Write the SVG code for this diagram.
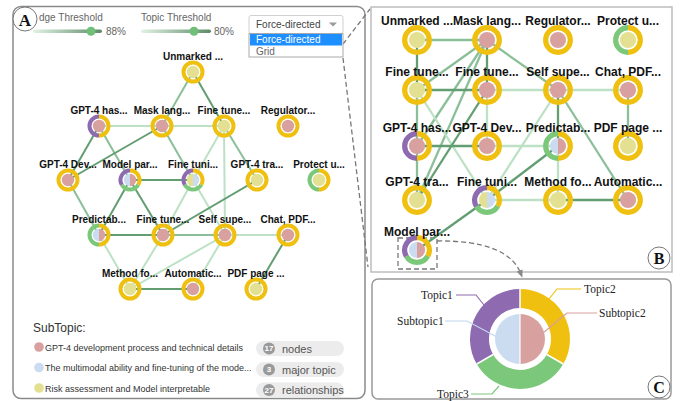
<svg xmlns="http://www.w3.org/2000/svg" xmlns:xlink="http://www.w3.org/1999/xlink" width="686" height="401" viewBox="0 0 686 401">
<style>
text{font-family:"Liberation Sans",Arial,sans-serif}
.la{font-size:10px;font-weight:bold;fill:#111;text-anchor:middle}
.lb{font-size:12px;font-weight:bold;fill:#111;text-anchor:middle}
.ui{font-size:10px;fill:#666}
.e1{stroke:#639e72;stroke-width:2;fill:none}
.e2{stroke:#8abf98;stroke-width:2;fill:none}
.e3{stroke:#bce1c4;stroke-width:2;fill:none}
.b1{stroke:#639e72;stroke-width:2.3;fill:none}
.b2{stroke:#8abf98;stroke-width:2.3;fill:none}
.b3{stroke:#bce1c4;stroke-width:2.3;fill:none}
.ser{font-family:"Liberation Serif","Times New Roman",serif;font-size:11.5px;fill:#222}
.leg{font-size:9px;fill:#333}
.pill{fill:#ececec}
.pc{fill:#9a9a9a}
.pn{font-size:8px;fill:#fff;font-weight:bold;text-anchor:middle}
.pt{font-size:11px;fill:#555}
.dash{stroke:#777;stroke-width:1.3;fill:none;stroke-dasharray:5,3}
</style>
<defs>
<linearGradient id="sl" x1="0" x2="1" y1="0" y2="0"><stop offset="0" stop-color="#e3f2e4"/><stop offset="1" stop-color="#5c8c69"/></linearGradient>
<g id="rY"><circle r="9.5" fill="none" stroke="#f0c010" stroke-width="4"/></g>
<g id="rPY"><path d="M0,9.5 A9.5,9.5 0 0 1 0,-9.5" fill="none" stroke="#8e6bb0" stroke-width="4"/><path d="M0,-9.5 A9.5,9.5 0 0 1 0,9.5" fill="none" stroke="#f0c010" stroke-width="4"/></g>
<g id="rGY"><path d="M0,9.5 A9.5,9.5 0 0 1 0,-9.5" fill="none" stroke="#7bc87b" stroke-width="4"/><path d="M0,-9.5 A9.5,9.5 0 0 1 0,9.5" fill="none" stroke="#f0c010" stroke-width="4"/></g>
<g id="r3"><path d="M0,-9.5 A9.5,9.5 0 0 1 8.227,4.75" fill="none" stroke="#f0c010" stroke-width="4"/><path d="M8.227,4.75 A9.5,9.5 0 0 1 -8.227,4.75" fill="none" stroke="#7bc87b" stroke-width="4"/><path d="M-8.227,4.75 A9.5,9.5 0 0 1 0,-9.5" fill="none" stroke="#8e6bb0" stroke-width="4"/></g>
<circle id="iP" r="6.2" fill="#d9a0a0"/>
<circle id="iY" r="6.2" fill="#e3e191"/>
<g id="iBP"><path d="M0,-6.2 A6.2,6.2 0 0 0 0,6.2 Z" fill="#cbdcf1"/><path d="M0,-6.2 A6.2,6.2 0 0 1 0,6.2 Z" fill="#d9a0a0"/></g>
<g id="iYB"><path d="M0,-6.2 A6.2,6.2 0 0 0 0,6.2 Z" fill="#e3e191"/><path d="M0,-6.2 A6.2,6.2 0 0 1 0,6.2 Z" fill="#cbdcf1"/></g>
<marker id="arr" viewBox="0 0 10 10" refX="5" refY="5" markerWidth="6" markerHeight="6" orient="auto"><path d="M0,1 L10,5 L0,9 Z" fill="#888"/></marker>
</defs>
<rect width="686" height="401" fill="#fff"/>

<!-- Panel frames -->
<rect x="13" y="6.5" width="352" height="392" rx="8" fill="none" stroke="#8a8a8a" stroke-width="1.5"/>
<rect x="371" y="7" width="301" height="265" fill="none" stroke="#bdbdbd" stroke-width="1.5"/>
<rect x="372" y="279" width="299" height="120" rx="6" fill="none" stroke="#999" stroke-width="1.5"/>

<!-- Panel A controls -->
<g id="edge-threshold">
<text class="ui" x="39" y="21">dge Threshold</text>
<rect x="33" y="29.5" width="69" height="3.5" rx="1.7" fill="url(#sl)"/>
<circle cx="91" cy="31.2" r="4.5" fill="#6fbf79"/>
<text class="ui" x="106" y="35">88%</text>
</g>
<g id="topic-threshold">
<text class="ui" x="141" y="21">Topic Threshold</text>
<rect x="141" y="29.5" width="70" height="3.5" rx="1.7" fill="url(#sl)"/>
<circle cx="194" cy="31.2" r="4.5" fill="#6fbf79"/>
<text class="ui" x="214" y="35">80%</text>
</g>
<g id="label-A"><circle cx="25" cy="19" r="12" fill="#fff" stroke="#777" stroke-width="1"/><text x="25" y="25.5" text-anchor="middle" style="font-family:'Liberation Serif',serif;font-weight:bold;font-size:17px" fill="#111">A</text></g>

<!-- connectors -->
<g id="connectors">
<g id="zoom-lines">
<line class="dash" x1="343" y1="44" x2="370" y2="9"/>
<line class="dash" x1="343" y1="58" x2="368" y2="267"/>
<rect class="dash" x="398" y="238" width="39" height="31"/>
<path class="dash" d="M437,241 Q508,240 521,274" marker-end="url(#arr)"/>
</g>
<g id="edges-A">
<line class="e2" x1="193" y1="72" x2="162" y2="126"/>
<line class="e1" x1="193" y1="72" x2="224" y2="126"/>
<line class="e3" x1="99" y1="126" x2="162" y2="126"/>
<line class="e3" x1="162" y1="126" x2="224" y2="126"/>
<line class="e1" x1="99" y1="126" x2="68" y2="180"/>
<line class="e2" x1="99" y1="126" x2="130" y2="180"/>
<line class="e1" x1="130" y1="180" x2="163" y2="235"/>
<line class="e1" x1="162" y1="126" x2="68" y2="180"/>
<line class="e2" x1="162" y1="126" x2="193" y2="180"/>
<line class="e3" x1="224" y1="126" x2="225" y2="235"/>
<line class="e3" x1="224" y1="126" x2="193" y2="180"/>
<line class="e2" x1="224" y1="126" x2="257" y2="180"/>
<line class="e2" x1="68" y1="180" x2="99" y2="235"/>
<line class="e1" x1="130" y1="180" x2="193" y2="180"/>
<line class="e1" x1="130" y1="180" x2="99" y2="235"/>
<line class="e3" x1="193" y1="180" x2="163" y2="235"/>
<line class="e3" x1="193" y1="180" x2="225" y2="235"/>
<line class="e1" x1="257" y1="180" x2="163" y2="235"/>
<line class="e1" x1="99" y1="235" x2="163" y2="235"/>
<line class="e2" x1="163" y1="235" x2="225" y2="235"/>
<line class="e3" x1="225" y1="235" x2="288" y2="235"/>
<line class="e3" x1="99" y1="235" x2="130" y2="289"/>
<line class="e3" x1="163" y1="235" x2="130" y2="289"/>
<line class="e3" x1="225" y1="235" x2="130" y2="289"/>
<line class="e3" x1="225" y1="235" x2="193" y2="289"/>
<line class="e1" x1="130" y1="289" x2="193" y2="289"/>
<line class="e1" x1="288" y1="235" x2="256" y2="289"/>
</g>
<g id="edges-B">
<line class="b2" x1="417" y1="40" x2="487" y2="40"/>
<line class="b1" x1="417" y1="40" x2="417" y2="90"/>
<line class="b1" x1="487" y1="40" x2="487" y2="90"/>
<line class="b2" x1="487" y1="40" x2="417" y2="90"/>
<line class="b2" x1="487" y1="40" x2="417" y2="146"/>
<line class="b2" x1="487" y1="40" x2="417" y2="200"/>
<line class="b2" x1="487" y1="40" x2="558" y2="90"/>
<line class="b1" x1="417" y1="90" x2="487" y2="90"/>
<line class="b3" x1="487" y1="90" x2="558" y2="90"/>
<line class="b3" x1="558" y1="90" x2="628" y2="90"/>
<line class="b2" x1="628" y1="90" x2="628" y2="146"/>
<line class="b3" x1="417" y1="90" x2="487" y2="200"/>
<line class="b2" x1="417" y1="90" x2="417" y2="146"/>
<line class="b1" x1="487" y1="90" x2="417" y2="200"/>
<line class="b3" x1="487" y1="90" x2="487" y2="146"/>
<line class="b1" x1="417" y1="146" x2="487" y2="146"/>
<line class="b3" x1="487" y1="146" x2="558" y2="146"/>
<line class="b2" x1="417" y1="146" x2="417" y2="200"/>
<line class="b1" x1="558" y1="90" x2="558" y2="146"/>
<line class="b3" x1="558" y1="90" x2="487" y2="200"/>
<line class="b2" x1="558" y1="90" x2="628" y2="200"/>
<line class="b3" x1="558" y1="146" x2="558" y2="200"/>
<line class="b1" x1="558" y1="146" x2="487" y2="200"/>
<line class="b3" x1="487" y1="200" x2="558" y2="200"/>
<line class="b1" x1="558" y1="200" x2="628" y2="200"/>
<line class="b1" x1="487" y1="200" x2="417" y2="250"/>
</g>
</g>

<!-- Panel A nodes -->
<g id="a-unmarked" transform="translate(193,72)"><use href="#rY"/><use href="#iY"/><text class="la" y="-12">Unmarked ...</text></g>
<g id="a-gpt4has" transform="translate(99,126)"><use href="#rPY"/><use href="#iP"/><text class="la" y="-12">GPT-4 has...</text></g>
<g id="a-masklang" transform="translate(162,126)"><use href="#rY"/><use href="#iP"/><text class="la" y="-12">Mask lang...</text></g>
<g id="a-finetune1" transform="translate(224,126)"><use href="#rY"/><use href="#iY"/><text class="la" y="-12">Fine tune...</text></g>
<g id="a-regulator" transform="translate(288,126)"><use href="#rY"/><use href="#iP"/><text class="la" y="-12">Regulator...</text></g>
<g id="a-gpt4dev" transform="translate(68,180)"><use href="#rY"/><use href="#iP"/><text class="la" y="-12">GPT-4 Dev...</text></g>
<g id="a-modelpar" transform="translate(130,180)"><use href="#r3"/><use href="#iBP"/><text class="la" y="-12">Model par...</text></g>
<g id="a-finetuni" transform="translate(193,180)"><use href="#r3"/><use href="#iYB"/><text class="la" y="-12">Fine tuni...</text></g>
<g id="a-gpt4tra" transform="translate(257,180)"><use href="#rY"/><use href="#iY"/><text class="la" y="-12">GPT-4 tra...</text></g>
<g id="a-protect" transform="translate(319,180)"><use href="#rGY"/><use href="#iY"/><text class="la" y="-12">Protect u...</text></g>
<g id="a-predictab" transform="translate(99,235)"><use href="#rGY"/><use href="#iBP"/><text class="la" y="-12">Predictab...</text></g>
<g id="a-finetune2" transform="translate(163,235)"><use href="#rY"/><use href="#iP"/><text class="la" y="-12">Fine tune...</text></g>
<g id="a-selfsupe" transform="translate(225,235)"><use href="#rY"/><use href="#iP"/><text class="la" y="-12">Self supe...</text></g>
<g id="a-chatpdf" transform="translate(288,235)"><use href="#rY"/><use href="#iP"/><text class="la" y="-12">Chat, PDF...</text></g>
<g id="a-methodfo" transform="translate(130,289)"><use href="#rY"/><use href="#iY"/><text class="la" y="-12">Method fo...</text></g>
<g id="a-automatic" transform="translate(193,289)"><use href="#rY"/><use href="#iP"/><text class="la" y="-12">Automatic...</text></g>
<g id="a-pdfpage" transform="translate(256,289)"><use href="#rY"/><use href="#iY"/><text class="la" y="-12">PDF page ...</text></g>

<!-- Panel B nodes -->
<g id="b-unmarked" transform="translate(417,40)"><g transform="scale(1.3)"><use href="#rY"/><use href="#iY"/></g><text class="lb" y="-15">Unmarked ...</text></g>
<g id="b-masklang" transform="translate(487,40)"><g transform="scale(1.3)"><use href="#rY"/><use href="#iP"/></g><text class="lb" y="-15">Mask lang...</text></g>
<g id="b-regulator" transform="translate(558,40)"><g transform="scale(1.3)"><use href="#rY"/><use href="#iP"/></g><text class="lb" y="-15">Regulator...</text></g>
<g id="b-protect" transform="translate(628,40)"><g transform="scale(1.3)"><use href="#rGY"/><use href="#iY"/></g><text class="lb" y="-15">Protect u...</text></g>
<g id="b-finetune1" transform="translate(417,90)"><g transform="scale(1.3)"><use href="#rY"/><use href="#iY"/></g><text class="lb" y="-14">Fine tune...</text></g>
<g id="b-finetune2" transform="translate(487,90)"><g transform="scale(1.3)"><use href="#rY"/><use href="#iP"/></g><text class="lb" y="-14">Fine tune...</text></g>
<g id="b-selfsupe" transform="translate(558,90)"><g transform="scale(1.3)"><use href="#rY"/><use href="#iP"/></g><text class="lb" y="-14">Self supe...</text></g>
<g id="b-chatpdf" transform="translate(628,90)"><g transform="scale(1.3)"><use href="#rY"/><use href="#iP"/></g><text class="lb" y="-14">Chat, PDF...</text></g>
<g id="b-gpt4has" transform="translate(417,146)"><g transform="scale(1.3)"><use href="#rPY"/><use href="#iP"/></g><text class="lb" y="-14">GPT-4 has...</text></g>
<g id="b-gpt4dev" transform="translate(487,146)"><g transform="scale(1.3)"><use href="#rY"/><use href="#iP"/></g><text class="lb" y="-14">GPT-4 Dev...</text></g>
<g id="b-predictab" transform="translate(558,146)"><g transform="scale(1.3)"><use href="#rGY"/><use href="#iBP"/></g><text class="lb" y="-14">Predictab...</text></g>
<g id="b-pdfpage" transform="translate(628,146)"><g transform="scale(1.3)"><use href="#rY"/><use href="#iY"/></g><text class="lb" y="-14">PDF page ...</text></g>
<g id="b-gpt4tra" transform="translate(417,200)"><g transform="scale(1.3)"><use href="#rY"/><use href="#iY"/></g><text class="lb" y="-14">GPT-4 tra...</text></g>
<g id="b-finetuni" transform="translate(487,200)"><g transform="scale(1.3)"><use href="#r3"/><use href="#iYB"/></g><text class="lb" y="-14">Fine tuni...</text></g>
<g id="b-methodfo" transform="translate(558,200)"><g transform="scale(1.3)"><use href="#rY"/><use href="#iY"/></g><text class="lb" y="-14">Method fo...</text></g>
<g id="b-automatic" transform="translate(628,200)"><g transform="scale(1.3)"><use href="#rY"/><use href="#iP"/></g><text class="lb" y="-14">Automatic...</text></g>
<g id="b-modelpar" transform="translate(417,250)"><g transform="scale(1.3)"><use href="#r3"/><use href="#iBP"/></g><text class="lb" y="-14">Model par...</text></g>
<g id="label-B"><circle cx="659" cy="258" r="11" fill="#fff" stroke="#777" stroke-width="1"/><text x="659" y="264" text-anchor="middle" style="font-family:'Liberation Serif',serif;font-weight:bold;font-size:16px" fill="#111">B</text></g>

<!-- Dropdown (on top) -->
<g id="dropdown">
<rect x="249" y="15.5" width="94" height="18" rx="2" fill="#fff" stroke="#d0d0d0"/>
<text x="256" y="28" style="font-size:10px" fill="#444">Force-directed</text>
<path d="M329,22.5 L337,22.5 L333,26.5 Z" fill="#999"/>
<rect x="249" y="33.5" width="94" height="23.5" fill="#fff" stroke="#aaa"/>
<rect x="250" y="34" width="92" height="11.5" fill="#1e8fff"/>
<text x="256" y="43" style="font-size:10px" fill="#fff">Force-directed</text>
<text x="256" y="54.5" style="font-size:10px" fill="#666">Grid</text>
</g>

<!-- Legend -->
<g id="legend">
<text x="33" y="332" style="font-size:12px" fill="#333">SubTopic:</text>
<circle cx="39" cy="347" r="4.8" fill="#d9a0a0"/>
<text class="leg" x="45" y="350.5">GPT-4 development process and technical details</text>
<circle cx="39" cy="367.5" r="4.8" fill="#cbdcf1"/>
<text class="leg" x="45" y="371">The multimodal ability and fine-tuning of the mode...</text>
<circle cx="39" cy="388" r="4.8" fill="#e3e191"/>
<text class="leg" x="45" y="391.5">Risk assessment and Model interpretable</text>
</g>
<g id="stat-nodes"><rect class="pill" x="256" y="341" width="88" height="15" rx="7.5"/><circle class="pc" cx="269" cy="348.5" r="6"/><text class="pn" x="269" y="351.3">17</text><text class="pt" x="282" y="352.5">nodes</text></g>
<g id="stat-topic"><rect class="pill" x="256" y="362" width="88" height="15" rx="7.5"/><circle class="pc" cx="269" cy="369.5" r="6"/><text class="pn" x="269" y="372.3">3</text><text class="pt" x="282" y="373.5">major topic</text></g>
<g id="stat-rel"><rect class="pill" x="256" y="382.5" width="88" height="15" rx="7.5"/><circle class="pc" cx="269" cy="390" r="6"/><text class="pn" x="269" y="392.8">27</text><text class="pt" x="282" y="394">relationships</text></g>

<!-- Panel C -->
<g id="donut">
<path d="M520,298.5 A40.5,40.5 0 0 1 555.07,359.25" fill="none" stroke="#f0c010" stroke-width="19"/>
<path d="M555.07,359.25 A40.5,40.5 0 0 1 484.93,359.25" fill="none" stroke="#7bc87b" stroke-width="19"/>
<path d="M484.93,359.25 A40.5,40.5 0 0 1 520,298.5" fill="none" stroke="#8e6bb0" stroke-width="19"/>
<line x1="520" y1="289" x2="520" y2="308" stroke="#fff" stroke-width="1.5"/>
<line x1="546.8" y1="354.5" x2="563.3" y2="364" stroke="#fff" stroke-width="1.5"/>
<line x1="493.2" y1="354.5" x2="476.7" y2="364" stroke="#fff" stroke-width="1.5"/>
<path d="M520,314 A25,25 0 0 0 520,364 Z" fill="#cbdcf1"/>
<path d="M520,314 A25,25 0 0 1 520,364 Z" fill="#d9a0a0"/>
<line x1="520" y1="314" x2="520" y2="364" stroke="#fff" stroke-width="1.2"/>
</g>
<g id="c-topic1"><polyline points="456,295 476,295 484,305" fill="none" stroke="#8e6bb0" stroke-width="1.2"/><text class="ser" x="421" y="299">Topic1</text></g>
<g id="c-topic2"><polyline points="581,289 557,289 549,299" fill="none" stroke="#f0c010" stroke-width="1.2"/><text class="ser" x="584" y="293">Topic2</text></g>
<g id="c-subtopic2"><polyline points="597,313 567,313 543,333" fill="none" stroke="#d9a0a0" stroke-width="1.2"/><text class="ser" x="599" y="317">Subtopic2</text></g>
<g id="c-subtopic1"><polyline points="445,321 467,321 497,337" fill="none" stroke="#c2d6ee" stroke-width="1.2"/><text class="ser" x="397" y="325">Subtopic1</text></g>
<g id="c-topic3"><polyline points="471,394 492,394 499,386" fill="none" stroke="#7bc87b" stroke-width="1.2"/><text class="ser" x="437" y="398">Topic3</text></g>
<g id="label-C"><circle cx="659" cy="387" r="11" fill="#fff" stroke="#777" stroke-width="1"/><text x="659" y="393" text-anchor="middle" style="font-family:'Liberation Serif',serif;font-weight:bold;font-size:16px" fill="#111">C</text></g>
</svg>
